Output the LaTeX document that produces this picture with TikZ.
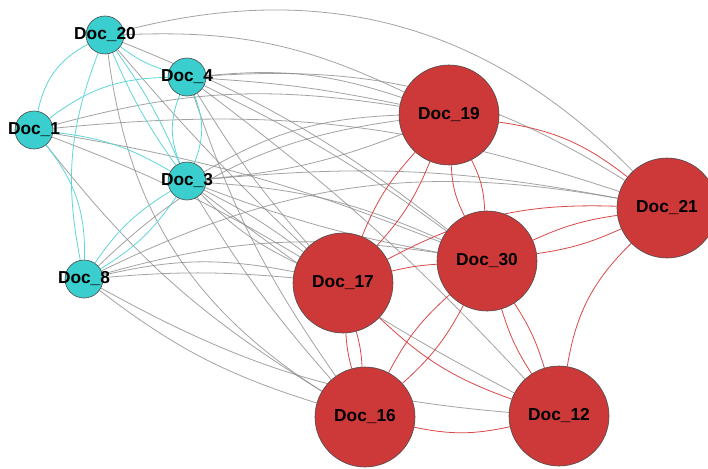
\documentclass[tikz,border=0pt]{standalone}
\usepackage{fontspec}
\setmainfont{Liberation Sans}
\pgfdeclarelayer{back}
\pgfdeclarelayer{edges}
\pgfsetlayers{back,edges,main}
\definecolor{cyanfill}{RGB}{58,206,206}
\definecolor{redfill}{RGB}{205,56,56}
\definecolor{cyanedge}{RGB}{95,215,215}
\definecolor{rededge}{RGB}{218,72,72}
\definecolor{grayedge}{RGB}{140,140,140}
\tikzset{
  cnode/.style={circle, fill=cyanfill, draw=black!70, line width=0.6pt, minimum size=38pt, inner sep=0pt},
  rnode/.style={circle, fill=redfill, draw=black!70, line width=0.6pt, minimum size=100pt, inner sep=0pt},
  lbl/.style={font=\bfseries\fontsize{17.3}{19}\selectfont, text=black, inner sep=0pt},
  ce/.style={draw=cyanedge, line width=0.8pt},
  re/.style={draw=rededge, line width=0.8pt},
  ge/.style={draw=grayedge, line width=0.8pt, draw opacity=0.8},
}
\begin{document}
\begin{tikzpicture}[x=1pt,y=1pt]
\begin{pgfonlayer}{back}
\fill[white] (0,0) rectangle (708,-468);
\end{pgfonlayer}
\useasboundingbox (0,0) rectangle (708,-468);
% cyan nodes
\node[cnode, label={[lbl]center:Doc\_20}] (n20) at (105,-35) {};
\node[cnode, label={[lbl]center:Doc\_4}]  (n4)  at (187,-77) {};
\node[cnode, label={[lbl]center:Doc\_1}]  (n1)  at (34,-130) {};
\node[cnode, label={[lbl]center:Doc\_3}]  (n3)  at (187,-181) {};
\node[cnode, label={[lbl]center:Doc\_8}]  (n8)  at (84,-279) {};
% red nodes
\node[rnode, label={[lbl]center:Doc\_19}] (n19) at (449,-115) {};
\node[rnode, label={[lbl]center:Doc\_21}] (n21) at (667,-208) {};
\node[rnode, label={[lbl]center:Doc\_30}] (n30) at (487,-261) {};
\node[rnode, label={[lbl]center:Doc\_17}] (n17) at (343,-283) {};
\node[rnode, label={[lbl]center:Doc\_16}] (n16) at (365,-417) {};
\node[rnode, label={[lbl]center:Doc\_12}] (n12) at (559,-416) {};
\begin{pgfonlayer}{edges}
% gray edges
\draw[ge] (n20) to[bend left=30] (n21);
\draw[ge] (n20) to[bend left=14] (n19);
\draw[ge] (n20) to[bend left=8] (n30);
\draw[ge] (n20) to[bend right=3] (n17);
\draw[ge] (n20) to[bend right=25] (n16);
\draw[ge] (n4) to[bend left=12] (n19);
\draw[ge] (n4) to[bend left=4] (n19);
\draw[ge] (n4) to[bend left=18] (n21);
\draw[ge] (n4) to[bend left=5] (n30);
\draw[ge] (n4) to[bend right=5] (n17);
\draw[ge] (n4) to[bend left=5] (n12);
\draw[ge] (n4) to[bend right=8] (n16);
\draw[ge] (n1) to[bend left=12] (n19);
\draw[ge] (n1) to[bend left=6] (n30);
\draw[ge] (n1) to[bend left=5] (n17);
\draw[ge] (n1) to[bend left=12] (n21);
\draw[ge] (n1) to[bend right=10] (n16);
\draw[ge] (n3) to[bend left=14] (n19);
\draw[ge] (n3) to[bend right=8] (n19);
\draw[ge] (n3) to[bend left=10] (n30);
\draw[ge] (n3) to[bend right=5] (n30);
\draw[ge] (n3) to[bend left=5] (n17);
\draw[ge] (n3) to[bend right=10] (n17);
\draw[ge] (n3) to[bend left=8] (n21);
\draw[ge] (n3) to[bend right=5] (n16);
\draw[ge] (n3) to[bend right=5] (n12);
\draw[ge] (n8) to[bend left=12] (n17);
\draw[ge] (n8) to[bend left=5] (n17);
\draw[ge] (n8) to[bend left=18] (n19);
\draw[ge] (n8) to[bend left=12] (n30);
\draw[ge] (n8) to[bend left=18] (n21);
\draw[ge] (n8) to[bend right=10] (n16);
\draw[ge] (n8) to[bend right=12] (n12);
% cyan edges
\draw[ce] (n1) to[bend left=25] (n20);
\draw[ce] (n20) to[bend right=16] (n8);
\draw[ce] (n1) to[bend left=20] (n8);
\draw[ce] (n1) to[bend left=18] (n4);
\draw[ce] (n20) to[bend right=10] (n4);
\draw[ce] (n1) to[bend left=12] (n3);
\draw[ce] (n20) to[bend left=6] (n3);
\draw[ce] (n20) to[bend right=6] (n3);
\draw[ce] (n4) to[bend left=22] (n3);
\draw[ce] (n4) to[bend right=22] (n3);
\draw[ce] (n3) to[bend left=12] (n8);
\draw[ce] (n3) to[bend right=12] (n8);
% red edges
\draw[re] (n19) to[bend left=15] (n21);
\draw[re] (n19) to[bend left=10] (n17);
\draw[re] (n19) to[bend right=10] (n17);
\draw[re] (n19) to[bend left=12] (n30);
\draw[re] (n19) to[bend right=12] (n30);
\draw[re] (n17) to[bend left=15] (n21);
\draw[re] (n17) to[bend left=5] (n30);
\draw[re] (n30) to[bend left=8] (n21);
\draw[re] (n30) to[bend right=8] (n21);
\draw[re] (n21) to[bend right=18] (n12);
\draw[re] (n17) to[bend left=6] (n16);
\draw[re] (n17) to[bend right=6] (n16);
\draw[re] (n30) to[bend left=10] (n16);
\draw[re] (n30) to[bend right=10] (n16);
\draw[re] (n17) to[bend right=12] (n12);
\draw[re] (n30) to[bend left=8] (n12);
\draw[re] (n30) to[bend right=8] (n12);
\draw[re] (n16) to[bend right=12] (n12);
\end{pgfonlayer}
\end{tikzpicture}
\end{document}
